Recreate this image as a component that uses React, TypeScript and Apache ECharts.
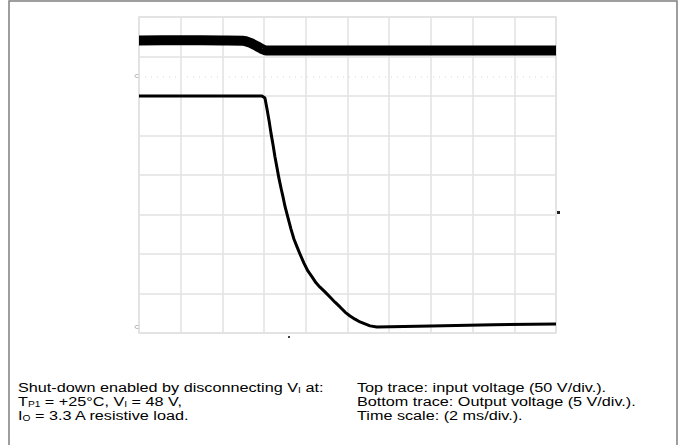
import React, { useEffect, useRef } from "react";
import * as echarts from "echarts";

// Time in ms (2 ms/div, 10 div), amplitude in screen divisions (8 div)
const topTimes = [0, 2, 4, 4.99, 5.32, 5.66, 5.9, 6.09, 8, 12, 16, 20];
const topDivs = [7.405, 7.41, 7.405, 7.4, 7.35, 7.26, 7.19, 7.15, 7.15, 7.15, 7.15, 7.15];

const bottomTimes = [
  0, 2, 4, 5.9, 6.04, 6.14, 6.24, 6.33, 6.43, 6.52, 6.62, 6.71, 6.81, 6.91, 7.0, 7.15, 7.29, 7.43, 7.58,
  7.72, 7.91, 8.1, 8.3, 8.49, 8.68, 8.92, 9.16, 9.4, 9.64, 9.88, 10.12, 10.36, 10.6, 10.84, 11.08, 11.41,
  14, 17, 20,
];
const bottomDivs = [
  6.0, 6.0, 6.0, 6.0, 5.95, 5.67, 5.37, 5.06, 4.76, 4.46, 4.18, 3.92, 3.67, 3.44, 3.21, 2.91, 2.63, 2.38, 2.18,
  2.0, 1.77, 1.57, 1.42, 1.27, 1.16, 1.04, 0.91, 0.78, 0.66, 0.53, 0.43, 0.35, 0.28, 0.23, 0.18, 0.15,
  0.18, 0.21, 0.23,
];

const leftNotes = [
  "{a|Shut-down enabled by disconnecting V}{s|I}{a| at:}",
  "{a|T}{s|P1}{a| = +25°C, V}{s|I}{a| = 48 V,}",
  "{a|I}{s|O}{a| = 3.3 A resistive load.}",
];
const rightNotes = [
  "{a|Top trace: input voltage (50 V/div.).}",
  "{a|Bottom trace: Output voltage (5 V/div.).}",
  "{a|Time scale: (2 ms/div.).}",
];

export default function App() {
  const ref = useRef<HTMLDivElement>(null);
  useEffect(() => {
    document.body.style.margin = "0";
    if (!ref.current) return;
    const chart = echarts.init(ref.current, undefined, { renderer: "svg" });
    const font = "'Liberation Sans', Arial, sans-serif";
    const rich = {
      a: { fontSize: 13.5, fontFamily: font, color: "#111", lineHeight: 15 },
      s: { fontSize: 8.5, fontFamily: font, color: "#111", lineHeight: 15, verticalAlign: "bottom" as const, padding: [5, 0, 0, 0] },
    };
    const lineYs = [387, 401, 415];
    const textEls: any[] = [];
    leftNotes.forEach((t, i) =>
      textEls.push({ type: "text", x: 18, y: lineYs[i], scaleX: 1.2, style: { text: t, rich, verticalAlign: "middle", align: "left" } })
    );
    rightNotes.forEach((t, i) =>
      textEls.push({ type: "text", x: 357, y: lineYs[i], scaleX: 1.2, style: { text: t, rich, verticalAlign: "middle", align: "left" } })
    );
    const gridColor = "#e2e2e2";
    chart.setOption({
      animation: false,
      backgroundColor: "#ffffff",
      grid: { left: 139, top: 17, width: 417, height: 316, show: true, borderColor: "#dddddd", borderWidth: 1.5 },
      xAxis: {
        type: "value", min: 0, max: 20, interval: 2,
        axisLabel: { show: false }, axisTick: { show: false }, axisLine: { show: false },
        splitLine: { show: true, lineStyle: { color: gridColor, width: 1.5 } },
      },
      yAxis: {
        type: "value", min: 0, max: 8, interval: 1,
        axisLabel: { show: false }, axisTick: { show: false }, axisLine: { show: false },
        splitLine: { show: true, lineStyle: { color: gridColor, width: 1.5 } },
      },
      series: [
        {
          type: "line",
          data: topTimes.map((t, i) => [t, topDivs[i]]),
          showSymbol: false,
          smooth: 0.3,
          z: 3,
          lineStyle: { color: "#000", width: 10 },
          markLine: {
            silent: true, symbol: "none", label: { show: false }, z: 1,
            lineStyle: { color: "#e4e4e4", type: [1, 5], width: 1.5 },
            data: [{ yAxis: 6.5 }],
          },
        },
        {
          type: "line",
          data: bottomTimes.map((t, i) => [t, bottomDivs[i]]),
          showSymbol: false,
          z: 3,
          lineStyle: { color: "#000", width: 3, join: "round" },
        },
      ],
      graphic: [
        { type: "rect", shape: { x: 9, y: 1, width: 668, height: 470 }, style: { fill: "none", stroke: "#7f7f7f", lineWidth: 1.5 } },
        { type: "text", x: 137, y: 75, style: { text: "⊂", fontSize: 7, fill: "#888", align: "center", verticalAlign: "middle" } },
        { type: "text", x: 137, y: 326, style: { text: "⊂", fontSize: 7, fill: "#888", align: "center", verticalAlign: "middle" } },
        { type: "rect", shape: { x: 288, y: 336, width: 2, height: 2 }, style: { fill: "#444" } },
        { type: "rect", shape: { x: 557, y: 211, width: 3, height: 3 }, style: { fill: "#222" } },
        ...textEls,
      ],
    });
    return () => chart.dispose();
  }, []);
  return <div ref={ref} style={{ width: 683, height: 445 }} />;
}
